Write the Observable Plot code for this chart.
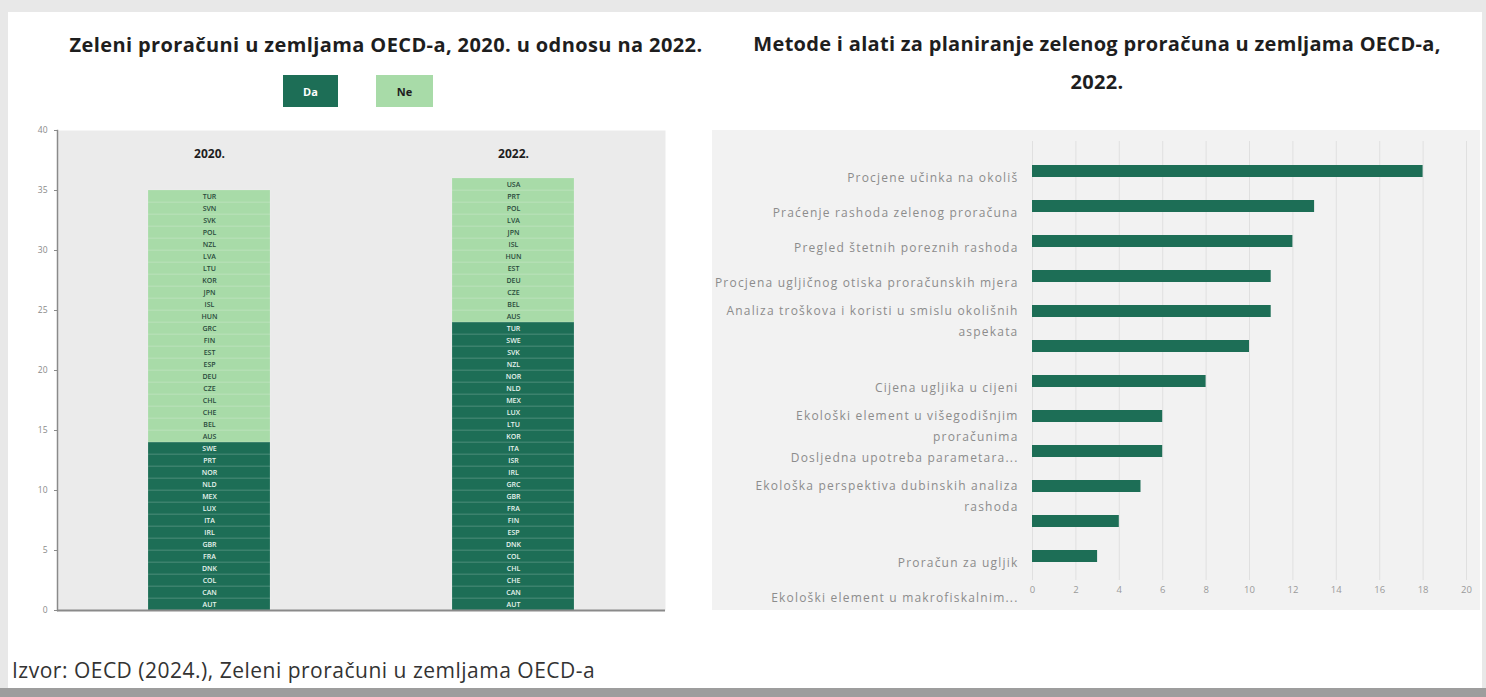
<!DOCTYPE html>
<html><head><meta charset="utf-8">
<script src="https://cdn.jsdelivr.net/npm/d3@7"></script>
<script src="https://cdn.jsdelivr.net/npm/@observablehq/plot@0.6"></script>
<style>
body{margin:0;width:1486px;height:697px;overflow:hidden;background:#e8e8e8;position:relative;font-family:"Open Sans",sans-serif;}
#sheet{position:absolute;left:8px;top:12px;width:1474px;height:676px;background:#fff;}
#bottomline{position:absolute;left:0;top:688px;width:1486px;height:9px;background:#9d9d9d;}
.abs{position:absolute;}
.title{font-weight:700;font-size:20px;letter-spacing:0.4px;color:#1e1e1e;text-align:center;white-space:nowrap;}
.sw{position:absolute;top:75px;height:32px;font-size:11px;font-weight:700;display:flex;align-items:center;justify-content:center;}
.mlabel text{letter-spacing:1.2px;}
</style></head>
<body>
<div id="sheet"></div>
<div id="bottomline"></div>
<div class="abs title" style="left:0;top:31px;width:772px;line-height:28px;">Zeleni proračuni u zemljama OECD-a, 2020. u odnosu na 2022.</div>
<div class="abs title" style="left:712px;top:25px;width:770px;line-height:38px;letter-spacing:0.3px;">Metode i alati za planiranje zelenog proračuna u zemljama OECD-a,<br>2022.</div>
<div id="legend"></div>
<div id="left" class="abs" style="left:0;top:120px;"></div>
<div id="right" class="abs" style="left:712px;top:130px;"></div>
<div class="abs" style="left:12px;top:656px;font-size:21px;letter-spacing:0.5px;color:#333;line-height:28px;white-space:nowrap;">Izvor: OECD (2024.), Zeleni proračuni u zemljama OECD-a</div>
<script>
// ---- data: left chart ----
const years = ["2020.", "2022."];
const statuses = ["Da", "Ne"];
// country codes listed bottom to top within each segment
const da2020 = ["AUT","CAN","COL","DNK","FRA","GBR","IRL","ITA","LUX","MEX","NLD","NOR","PRT","SWE"];
const ne2020 = ["AUS","BEL","CHE","CHL","CZE","DEU","ESP","EST","FIN","GRC","HUN","ISL","JPN","KOR","LTU","LVA","NZL","POL","SVK","SVN","TUR"];
const da2022 = ["AUT","CAN","CHE","CHL","COL","DNK","ESP","FIN","FRA","GBR","GRC","IRL","ISR","ITA","KOR","LTU","LUX","MEX","NLD","NOR","NZL","SVK","SWE","TUR"];
const ne2022 = ["AUS","BEL","CZE","DEU","EST","HUN","ISL","JPN","LVA","POL","PRT","USA"];
const yTicks = [0, 5, 10, 15, 20, 25, 30, 35, 40];

// ---- data: right chart ----
const methods = [
  "Procjene učinka na okoliš",
  "Praćenje rashoda zelenog proračuna",
  "Pregled štetnih poreznih rashoda",
  "Procjena ugljičnog otiska proračunskih mjera",
  "Analiza troškova i koristi u smislu okolišnih\naspekata",
  "",
  "Cijena ugljika u cijeni",
  "Ekološki element u višegodišnjim\nproračunima",
  "Dosljedna upotreba parametara...",
  "Ekološka perspektiva dubinskih analiza\nrashoda",
  "",
  "Proračun za ugljik",
  "Ekološki element u makrofiskalnim..."
];
const methodCounts = [18, 13, 12, 11, 11, 10, 8, 6, 6, 5, 4, 3, 0];
const xTicks = [0, 2, 4, 6, 8, 10, 12, 14, 16, 18, 20];

// ---- styles ----
const DARK = "#1d6e56", LIGHT = "#a8dba8";
const statusColor = {Da: DARK, Ne: LIGHT};
const textColor = {Da: "#e8f3ee", Ne: "#2a4a3c"};

// legend
const legend = document.getElementById("legend");
const swLeft = [283, 376], swW = [55, 57];
statuses.forEach((s, i) => {
  const d = document.createElement("div");
  d.className = "sw";
  d.style.left = swLeft[i] + "px";
  d.style.width = swW[i] + "px";
  d.style.background = statusColor[s];
  d.style.color = s === "Da" ? "#fff" : "#1e1e1e";
  d.textContent = s;
  legend.appendChild(d);
});

const rows = [];
[[years[0], da2020, ne2020], [years[1], da2022, ne2022]].forEach(([y, da, ne]) => {
  da.forEach(c => rows.push({year: y, status: "Da", code: c}));
  ne.forEach(c => rows.push({year: y, status: "Ne", code: c}));
});

const left = Plot.plot({
  width: 670, height: 510,
  marginLeft: 57, marginRight: 5, marginTop: 10, marginBottom: 20,
  style: {background: "transparent", fontFamily: "Open Sans, sans-serif"},
  x: {domain: years, paddingInner: 0.6, paddingOuter: 0.3, axis: null},
  y: {domain: [0, 40], axis: null},
  marks: [
    Plot.frame({fill: "#ebebeb", stroke: null}),
    Plot.barY(rows, Plot.stackY({x: "year", y: () => 1, fill: d => statusColor[d.status],
      stroke: "rgba(255,255,255,0.22)", strokeWidth: 0.7})),
    Plot.text(rows, Plot.stackY({x: "year", y: () => 1, text: "code",
      fill: d => textColor[d.status], fontSize: 7, fontWeight: 600})),
    Plot.text(years, {x: d => d, y: 38, text: d => d, fontWeight: 700, fontSize: 12, fill: "#1e1e1e"}),
    Plot.axisY({ticks: yTicks, tickSize: 3, tickPadding: 7, fontSize: 8.5, color: "#8a8a8a"}),
    Plot.frame({anchor: "left", stroke: "#8a8a8a", strokeWidth: 1.5}),
    Plot.ruleY([0], {stroke: "#8a8a8a", strokeWidth: 2})
  ]
});
document.getElementById("left").appendChild(left);

const labelOpts = {y: (d, i) => i, text: d => d, frameAnchor: "left", textAnchor: "end", dx: -14,
  lineAnchor: "top", fontSize: 12, fill: "#8c8c8c", className: "mlabel"};

const right = Plot.plot({
  width: 768, height: 480,
  marginLeft: 320, marginRight: 14, marginTop: 11, marginBottom: 30,
  style: {background: "#f2f2f2", fontFamily: "Open Sans, sans-serif"},
  x: {domain: [0, 20], axis: null},
  y: {domain: d3.range(methods.length), range: [11, 490], padding: 0.66, axis: null},
  marks: [
    Plot.gridX({ticks: xTicks, stroke: "#e0e0e0", strokeOpacity: 1}),
    Plot.barX(methodCounts, {x: d => d, y: (d, i) => i, fill: DARK}),
    Plot.text(methods, {...labelOpts, filter: d => !d.includes("\n"), dy: 2}),
    Plot.text(methods, {...labelOpts, filter: d => d.includes("\n"), dy: -11, lineHeight: 1.75}),
    Plot.axisX({ticks: xTicks, tickSize: 0, tickPadding: 6, fontSize: 9.5, color: "#9a9a9a"})
  ]
});
document.getElementById("right").appendChild(right);
</script>
</body></html>
